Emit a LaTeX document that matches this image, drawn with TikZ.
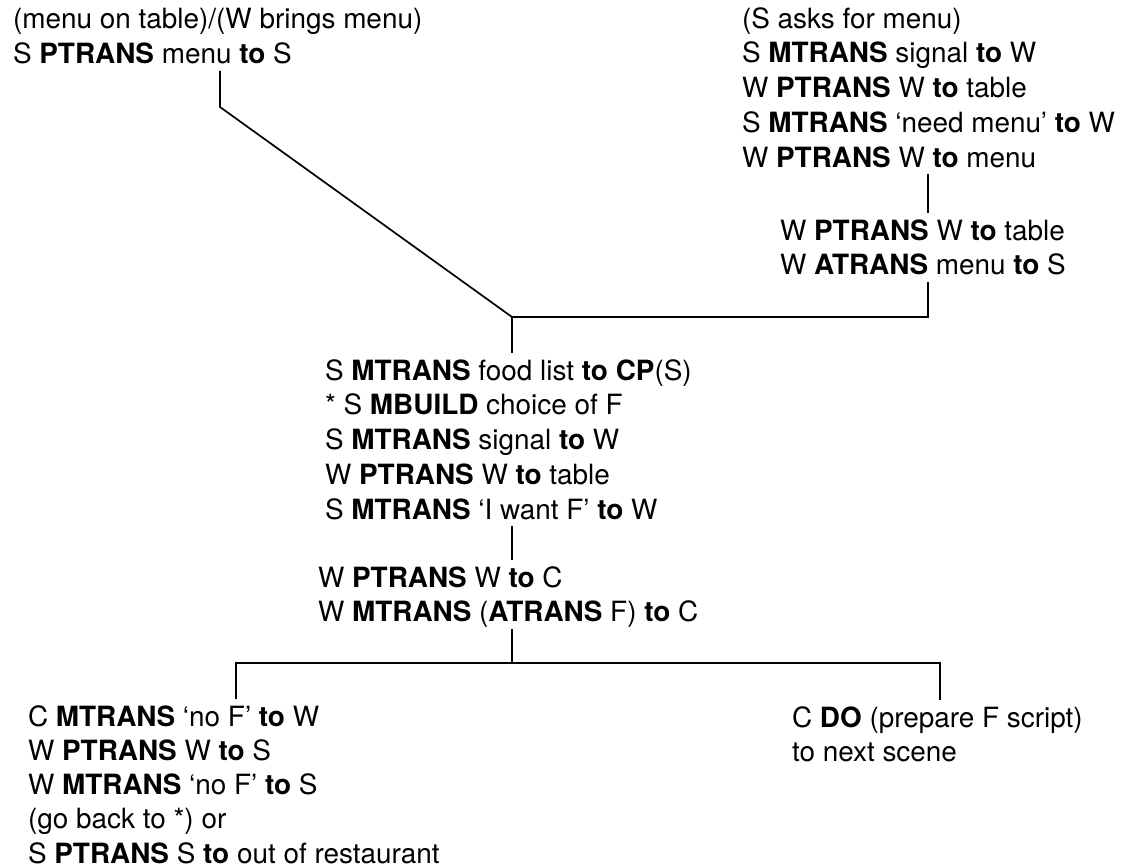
\documentclass[tikz,border=0pt]{standalone}
\usepackage{fontspec}
\setmainfont{TeX Gyre Heros}
\newcommand{\bd}[1]{\textbf{#1}}
\newcommand{\topst}{\rule{0pt}{27pt}}
\newcommand{\botst}{\rule[-7pt]{0pt}{7pt}}
\begin{document}
\begin{tikzpicture}[x=1pt,y=-1pt,
  txt/.style={anchor=north west, inner sep=0pt, outer sep=0pt, align=left,
              font=\fontsize{27.9}{34.8}\selectfont},
  conn/.style={line width=1.7pt, line join=miter}]
\useasboundingbox (0,0) rectangle (1134,867);

\node[txt] (tl) at (13,2) {\topst(menu on table)/(W brings menu)\\
S \bd{PTRANS} menu \bd{to} S\botst};

\node[txt] (tr) at (742,1) {\topst(S asks for menu)\\
S \bd{MTRANS} signal \bd{to} W\\
W \bd{PTRANS} W \bd{to} table\\
S \bd{MTRANS} ‘need menu’ \bd{to} W\\
W \bd{PTRANS} W \bd{to} menu\botst};

\node[txt] (trl) at (780,213) {\topst W \bd{PTRANS} W \bd{to} table\\
W \bd{ATRANS} menu \bd{to} S\botst};

\node[txt] (mid) at (325,353) {\topst S \bd{MTRANS} food list \bd{to} \bd{CP}(S)\\
* S \bd{MBUILD} choice of F\\
S \bd{MTRANS} signal \bd{to} W\\
W \bd{PTRANS} W \bd{to} table\\
S \bd{MTRANS} ‘I want F’ \bd{to} W\botst};

\node[txt] (midl) at (318,560) {\topst W \bd{PTRANS} W \bd{to} C\\
W \bd{MTRANS} (\bd{ATRANS} F) \bd{to} C\botst};

\node[txt, font=\fontsize{27.9}{34.3}\selectfont] (bl) at (28,699) {\topst C \bd{MTRANS} ‘no F’ \bd{to} W\\
W \bd{PTRANS} W \bd{to} S\\
W \bd{MTRANS} ‘no F’ \bd{to} S\\
(go back to *) or\\
S \bd{PTRANS} S \bd{to} out of restaurant};

\node[txt] (br) at (792,700) {\topst C \bd{DO} (prepare F script)\\
to next scene};

\coordinate (c1) at (220,107);
\coordinate (j1) at (512,317);
\coordinate (r1) at (928,317);
\coordinate (j2) at (512,663);
\coordinate (lc) at (236,663);
\coordinate (rc) at (940,663);

\draw[conn] (tl.south -| c1) -- (c1) -- (j1);
\draw[conn] (tr.south -| r1) -- (trl.north -| r1);
\draw[conn] (trl.south -| r1) -- (r1) -- (j1);
\draw[conn] (j1) -- (mid.north -| j1);
\draw[conn] (mid.south -| j1) -- (midl.north -| j1);
\draw[conn] (midl.south -| j1) -- (j2);
\draw[conn] (bl.north -| lc) -- (lc) -- (rc) -- (br.north -| rc);
\end{tikzpicture}
\end{document}
